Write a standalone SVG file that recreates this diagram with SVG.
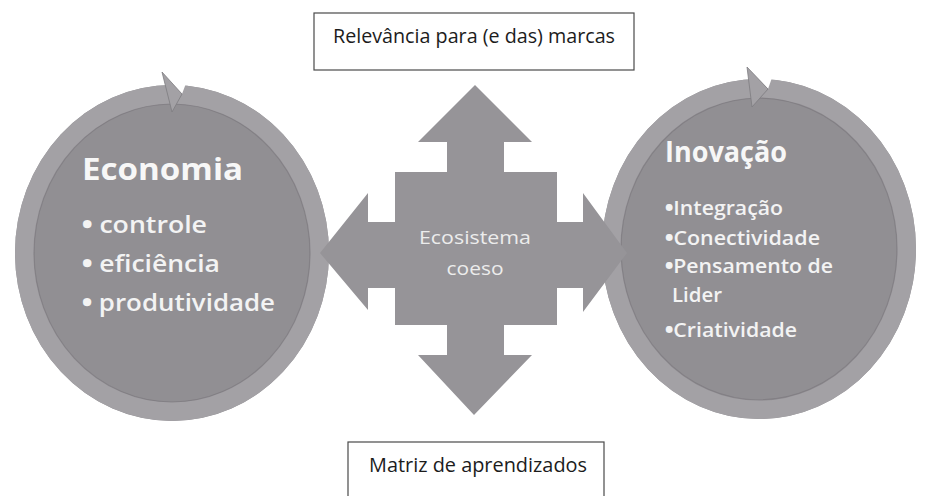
<svg xmlns="http://www.w3.org/2000/svg" width="926" height="496" viewBox="0 0 926 496">
<style>
  text { font-family: "Open Sans", "Noto Sans", "Liberation Sans", sans-serif; }
  .disc { fill: #918f93; }
  .ring { fill: none; stroke: #a3a1a5; stroke-width: 19; }
  .shadow { fill: none; stroke: #727074; stroke-width: 1.2; opacity: 0.55; }
  .head { fill: #a3a1a5; stroke: #7e7c80; stroke-width: 0.8; }
  .notch { fill: #ffffff; }
  .cross { fill: #969498; }
  .title { fill: #f7f7f7; font-weight: bold; }
  .item { fill: #f3f3f3; font-weight: 600; }
  .bul { font-weight: 800; }
  .center { fill: #ececec; font-size: 18px; text-anchor: middle; }
  .box { fill: #ffffff; stroke: #4a4a4a; stroke-width: 1.2; }
  .boxtext { fill: #1c1c1c; font-size: 20px; }
</style>

<g id="economia">
  <ellipse class="disc" cx="172" cy="253" rx="157" ry="168"/>
  <ellipse class="ring" cx="172" cy="253" rx="147.5" ry="158.5"/>
  <ellipse class="shadow" cx="172" cy="253" rx="138" ry="149"/>
  <polygon class="notch" points="170,83 188,78 182,94"/>
  <polygon class="head" points="162,72 182,94 172,112"/>
  <text class="title" x="82" y="180" font-size="30" textLength="161" lengthAdjust="spacingAndGlyphs">Economia</text>
  <text class="item" x="82" y="233" font-size="22.5" textLength="125" lengthAdjust="spacingAndGlyphs"><tspan class="bul">•</tspan> controle</text>
  <text class="item" x="82" y="272" font-size="22.5" textLength="138" lengthAdjust="spacingAndGlyphs"><tspan class="bul">•</tspan> eficiência</text>
  <text class="item" x="82" y="311" font-size="22.5" textLength="193" lengthAdjust="spacingAndGlyphs"><tspan class="bul">•</tspan> produtividade</text>
</g>

<g id="inovacao">
  <ellipse class="disc" cx="759" cy="249" rx="157" ry="170"/>
  <ellipse class="ring" cx="759" cy="249" rx="147.5" ry="160.5"/>
  <ellipse class="shadow" cx="759" cy="249" rx="138" ry="151"/>
  <polygon class="notch" points="756,77 774,72 768,89"/>
  <polygon class="head" points="747,67 768,89 752,107"/>
  <text class="title" x="665" y="162" font-size="28" textLength="122" lengthAdjust="spacingAndGlyphs">Inovação</text>
  <text class="item" x="665" y="215" font-size="19" textLength="118" lengthAdjust="spacingAndGlyphs"><tspan class="bul">•</tspan>Integração</text>
  <text class="item" x="665" y="245" font-size="19" textLength="155" lengthAdjust="spacingAndGlyphs"><tspan class="bul">•</tspan>Conectividade</text>
  <text class="item" x="665" y="273" font-size="19" textLength="168" lengthAdjust="spacingAndGlyphs"><tspan class="bul">•</tspan>Pensamento de</text>
  <text class="item" x="672" y="302" font-size="19" textLength="50" lengthAdjust="spacingAndGlyphs">Lider</text>
  <text class="item" x="665" y="337" font-size="19" textLength="132" lengthAdjust="spacingAndGlyphs"><tspan class="bul">•</tspan>Criatividade</text>
</g>

<g id="connectors"></g>

<g id="ecosistema">
  <polygon class="cross" points="475,85 532,142 504,142 504,172 557,172 557,222 583,222 583,193 627,253 583,312 583,288 557,288 557,325 504,325 504,355 532,355 474,415 418,355 447,355 447,325 395,325 395,288 368,288 368,310 320,253 368,193 368,222 395,222 395,172 447,172 447,142 418,142"/>
  <text class="center" x="475" y="244" textLength="112" lengthAdjust="spacingAndGlyphs">Ecosistema</text>
  <text class="center" x="475" y="275" textLength="57" lengthAdjust="spacingAndGlyphs">coeso</text>
</g>

<g id="relevancia">
  <rect class="box" x="314" y="13" width="320" height="57"/>
  <text class="boxtext" x="333" y="43" textLength="282" lengthAdjust="spacingAndGlyphs">Relevância para (e das) marcas</text>
</g>

<g id="matriz">
  <rect class="box" x="348" y="442" width="256" height="70"/>
  <text class="boxtext" x="369" y="472" textLength="218" lengthAdjust="spacingAndGlyphs">Matriz de aprendizados</text>
</g>
</svg>
